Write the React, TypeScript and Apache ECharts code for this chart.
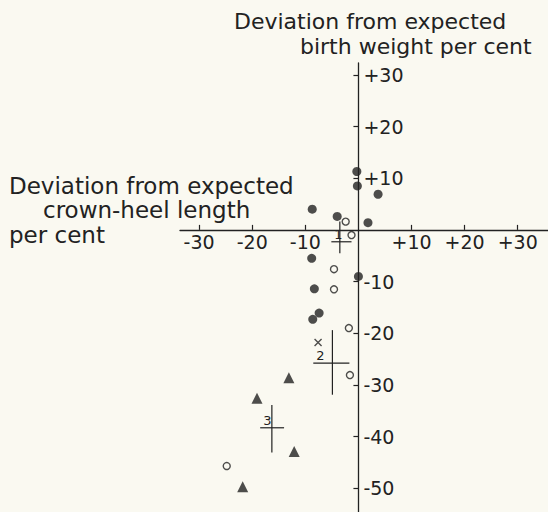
import React, { useEffect, useRef } from "react";
import * as echarts from "echarts";

// Deviation from expected crown-heel length (x, %) vs birth weight (y, %)
const filledCircles: [number, number][] = [
  [-0.3, 11.3], [-0.2, 8.5], [3.7, 6.9], [-8.7, 4.0], [-4.0, 2.6], [1.8, 1.4],
  [-8.8, -5.5], [0.0, -9.0], [-8.3, -11.4], [-7.4, -16.1], [-8.6, -17.3],
];
const openCircles: [number, number][] = [
  [-2.4, 1.6], [-1.3, -1.0], [-4.6, -7.6], [-4.6, -11.5], [-1.8, -19.0],
  [-1.6, -28.1], [-24.8, -45.7],
];
const triangles: [number, number][] = [
  [-13.1, -28.6], [-19.1, -32.6], [-12.1, -42.9], [-21.8, -49.7],
];
const crossMarks: [number, number][] = [[-7.6, -21.8]];
// group means: [cx, cy, xLow, xHigh, yHigh, yLow]
const groupLabels = ["1", "2", "3"];
const groupMeans: [number, number, number, number, number, number][] = [
  [-3.5, -2.3, -5.1, -1.3, 1.6, -4.5],
  [-4.9, -25.8, -8.5, -1.7, -19.4, -31.9],
  [-16.3, -38.3, -18.5, -14.0, -33.9, -43.1],
];
const xTicks = [-30, -20, -10, 10, 20, 30];
const yTicks = [-50, -40, -30, -20, -10, 10, 20, 30];

const X_MIN = -33.6, X_MAX = 35.7;
const Y_MIN = -54.6, Y_MAX = 32.3;
const G_LEFT = 180, G_TOP = 63, W = 548, H = 512;

const INK = "#222222";
const BG = "#faf9f1";
const FONT = "DejaVu Sans";

const fmt = (v: number) => (v > 0 ? "+" + v : v < 0 ? String(v) : "");

export default function App() {
  const ref = useRef<HTMLDivElement>(null);
  useEffect(() => {
    if (!ref.current) return;
    const chart = echarts.init(ref.current, undefined, { renderer: "svg" });
    const gw = W - G_LEFT;
    const gh = H - G_TOP;
    // place axes through the origin via offsets
    const zeroXpx = ((0 - X_MIN) / (X_MAX - X_MIN)) * gw; // from grid left
    const zeroYpx = ((0 - Y_MIN) / (Y_MAX - Y_MIN)) * gh; // from grid bottom
    chart.setOption({
      animation: false,
      backgroundColor: BG,
      grid: { left: G_LEFT, right: 0, top: G_TOP, bottom: 0, containLabel: false },
      xAxis: {
        type: "value",
        min: X_MIN,
        max: X_MAX,
        position: "bottom",
        offset: -zeroYpx,
        splitLine: { show: false },
        axisLine: { show: true, onZero: false, lineStyle: { color: INK, width: 1.3 } },
        axisTick: { show: true, inside: true, length: 5, customValues: xTicks, lineStyle: { color: INK, width: 1.2 } },
        axisLabel: {
          customValues: xTicks,
          formatter: fmt,
          color: INK,
          fontSize: 19,
          fontFamily: FONT,
          margin: 3,
        },
      },
      yAxis: {
        type: "value",
        min: Y_MIN,
        max: Y_MAX,
        position: "left",
        offset: -zeroXpx,
        splitLine: { show: false },
        axisLine: { show: true, onZero: false, lineStyle: { color: INK, width: 1.3 } },
        axisTick: { show: true, inside: false, length: 5, customValues: yTicks, lineStyle: { color: INK, width: 1.2 } },
        axisLabel: {
          customValues: yTicks,
          inside: true,
          formatter: fmt,
          color: INK,
          fontSize: 19,
          fontFamily: FONT,
          margin: 5,
        },
      },
      graphic: [
        { type: "text", left: 234, top: 10, style: { text: "Deviation from expected", fontSize: 22, fontFamily: FONT, fill: INK } },
        { type: "text", left: 300, top: 35, style: { text: "birth weight per cent", fontSize: 22, fontFamily: FONT, fill: INK } },
        { type: "text", left: 9, top: 174, style: { text: "Deviation from expected", fontSize: 23, fontFamily: FONT, fill: INK } },
        { type: "text", left: 43, top: 198, style: { text: "crown-heel length", fontSize: 23, fontFamily: FONT, fill: INK } },
        { type: "text", left: 9, top: 223, style: { text: "per cent", fontSize: 23, fontFamily: FONT, fill: INK } },
      ],
      series: [
        {
          type: "scatter",
          data: filledCircles,
          symbol: "circle",
          symbolSize: 9,
          itemStyle: { color: INK },
        },
        {
          type: "scatter",
          data: openCircles,
          symbol: "circle",
          symbolSize: 7,
          itemStyle: { color: BG, borderColor: INK, borderWidth: 1.4 },
        },
        {
          type: "scatter",
          data: triangles,
          symbol: "triangle",
          symbolSize: 11,
          itemStyle: { color: INK },
        },
        {
          type: "scatter",
          data: crossMarks,
          symbol: "path://M0,0L10,10M10,0L0,10",
          symbolSize: 7,
          itemStyle: { color: "none", borderColor: INK, borderWidth: 1.4 },
        },
        {
          type: "custom",
          data: groupMeans,
          renderItem: (params: any, api: any) => {
            const cx = api.value(0), cy = api.value(1);
            const x0 = api.value(2), x1 = api.value(3);
            const y0 = api.value(4), y1 = api.value(5);
            const pL = api.coord([x0, cy]);
            const pR = api.coord([x1, cy]);
            const pT = api.coord([cx, y0]);
            const pB = api.coord([cx, y1]);
            return {
              type: "group",
              children: [
                { type: "line", shape: { x1: pL[0], y1: pL[1], x2: pR[0], y2: pR[1] }, style: { stroke: INK, lineWidth: 1.2 } },
                { type: "line", shape: { x1: pT[0], y1: pT[1], x2: pB[0], y2: pB[1] }, style: { stroke: INK, lineWidth: 1.2 } },
                {
                  type: "text",
                  x: pL[0] + 3,
                  y: pL[1] - 1,
                  style: {
                    text: groupLabels[params.dataIndex],
                    fontSize: 13,
                    fontFamily: FONT,
                    fill: INK,
                    align: "left",
                    verticalAlign: "bottom",
                  },
                },
              ],
            };
          },
        },
      ],
    });
    return () => chart.dispose();
  }, []);
  return (
    <div
      ref={ref}
      style={{ position: "fixed", left: 0, top: 0, width: W, height: H, background: BG }}
    />
  );
}
